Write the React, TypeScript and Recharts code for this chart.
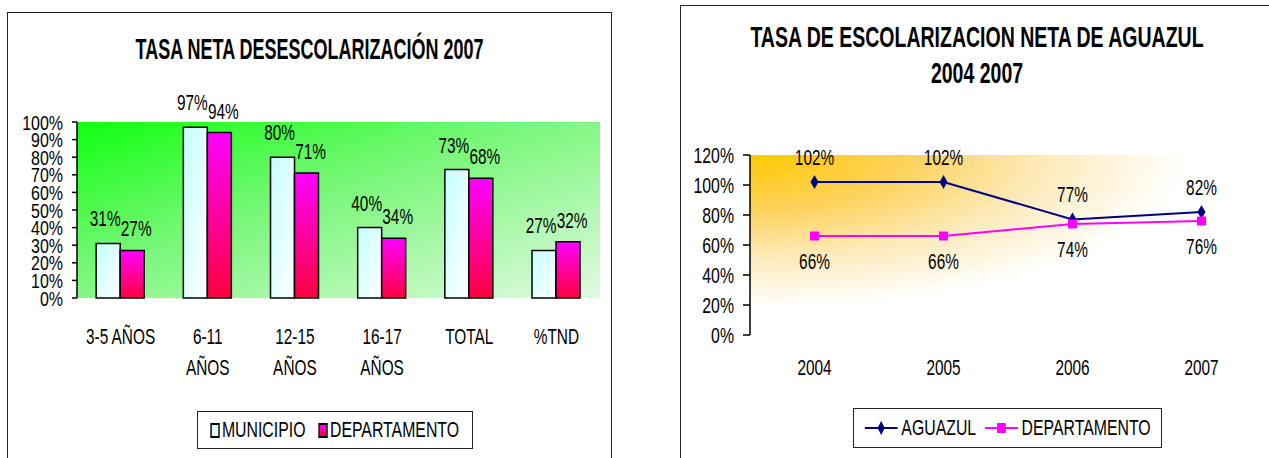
import React from 'react';
import {
  BarChart,
  Bar,
  LineChart,
  Line,
  XAxis,
  YAxis,
  CartesianGrid,
  LabelList,
} from 'recharts';

// ---- left chart data ----
const barCategories = ['3-5 AÑOS', '6-11\nAÑOS', '12-15\nAÑOS', '16-17\nAÑOS', 'TOTAL', '%TND'];
const municipioValues = [31, 97, 80, 40, 73, 27];
const departamentoBarValues = [27, 94, 71, 34, 68, 32];
const barTicks = [0, 10, 20, 30, 40, 50, 60, 70, 80, 90, 100];

// ---- right chart data ----
const years = ['2004', '2005', '2006', '2007'];
const aguazulValues = [102, 102, 77, 82];
const departamentoLineValues = [66, 66, 74, 76];
const lineTicks = [0, 20, 40, 60, 80, 100, 120];

const barData = barCategories.map((name, i) => ({
  name,
  municipio: municipioValues[i],
  departamento: departamentoBarValues[i],
}));

const lineData = years.map((year, i) => ({
  year,
  aguazul: aguazulValues[i],
  departamento: departamentoLineValues[i],
}));

const SANS = "'Liberation Sans', Arial, sans-serif";
const SX = 0.7; // the original picture is squeezed sideways

const pct = (v: any) => `${v}%`;
const edgeTicks = (n: number) => Array.from({ length: n + 1 }, (_, i) => i);

function YTick({ x, y, payload, fontSize, sx }: any) {
  return (
    <text
      transform={`translate(${x},${y}) scale(${sx},1)`}
      textAnchor="end"
      dy="0.36em"
      fontFamily={SANS}
      fontSize={fontSize}
      fill="#000"
    >
      {`${payload.value}%`}
    </text>
  );
}

function CatTick({ x, y, payload, fontSize, firstDy, nextDy }: any) {
  const lines = String(payload.value).split('\n');
  return (
    <text
      transform={`translate(${x},${y}) scale(${SX},1)`}
      textAnchor="middle"
      fontFamily={SANS}
      fontSize={fontSize}
      fill="#000"
    >
      {lines.map((l, i) => (
        <tspan key={i} x={0} dy={i === 0 ? firstDy : nextDy}>
          {l}
        </tspan>
      ))}
    </text>
  );
}

function Diamond({ cx, cy }: any) {
  if (cx == null || cy == null) return null;
  return <polygon points={`${cx},${cy - 7} ${cx + 4},${cy} ${cx},${cy + 7} ${cx - 4},${cy}`} fill="#000080" />;
}

function Square({ cx, cy }: any) {
  if (cx == null || cy == null) return null;
  return <rect x={cx - 4.5} y={cy - 4.5} width={9} height={9} fill="#ff00ff" />;
}

const labelStyle = (shift: number): any => ({
  fontFamily: SANS,
  fontSize: 22,
  fill: '#000',
  transform: `translateX(${shift}px) scaleX(${SX})`,
  transformBox: 'fill-box',
  transformOrigin: 'center',
});

const squeeze = (sx: number): React.CSSProperties => ({
  transform: `scaleX(${sx})`,
  whiteSpace: 'nowrap',
});

export default function App() {
  return (
    <div
      style={{
        position: 'absolute',
        left: 0,
        top: 0,
        width: 1269,
        height: 458,
        overflow: 'hidden',
        background: '#fff',
        fontFamily: SANS,
      }}
    >
      {/* left frame */}
      <div
        style={{
          position: 'absolute',
          left: 7,
          top: 12,
          width: 603,
          height: 470,
          border: '1.5px solid #222',
        }}
      />
      <div
        style={{
          position: 'absolute',
          left: 7,
          top: 31,
          width: 605,
          textAlign: 'center',
          fontWeight: 'bold',
          fontSize: 30,
          lineHeight: '36px',
          color: '#000',
          ...squeeze(0.6),
        }}
      >
        TASA NETA DESESCOLARIZACIÓN 2007
      </div>

      <div style={{ position: 'absolute', left: 0, top: 0 }}>
        <BarChart
          width={620}
          height={458}
          data={barData}
          margin={{ top: 122, right: 20, left: 7, bottom: 60 }}
          barCategoryGap="22%"
          barGap={0}
        >
          <defs>
            <linearGradient id="bgGreen" x1="0" y1="0" x2="1" y2="1">
              <stop offset="0%" stopColor="#10ff10" />
              <stop offset="40%" stopColor="#72f772" />
              <stop offset="100%" stopColor="#e2f9e2" />
            </linearGradient>
            <linearGradient id="munFill" x1="0" y1="0" x2="1" y2="1">
              <stop offset="0%" stopColor="#c4ffff" />
              <stop offset="100%" stopColor="#ffffff" />
            </linearGradient>
            <linearGradient id="depFill" x1="0" y1="0" x2="0" y2="1">
              <stop offset="0%" stopColor="#ff00ff" />
              <stop offset="100%" stopColor="#ff0040" />
            </linearGradient>
          </defs>
          <CartesianGrid fill="url(#bgGreen)" horizontal={false} vertical={false} />
          <XAxis
            xAxisId="edges"
            type="number"
            domain={[0, barCategories.length]}
            ticks={edgeTicks(barCategories.length)}
            allowDataOverflow
            tick={false}
            tickSize={8}
            height={0}
            axisLine={{ stroke: '#000', strokeWidth: 1.5 }}
            tickLine={{ stroke: '#000', strokeWidth: 1.5 }}
          />
          <XAxis
            dataKey="name"
            axisLine={false}
            tickLine={false}
            tickSize={0}
            tickMargin={0}
            height={100}
            interval={0}
            tick={<CatTick fontSize={22} firstDy={46} nextDy={31} />}
          />
          <YAxis
            width={70}
            domain={[0, 100]}
            ticks={barTicks}
            interval={0}
            tickSize={5}
            tickMargin={9}
            axisLine={{ stroke: '#000', strokeWidth: 1.5 }}
            tickLine={{ stroke: '#000', strokeWidth: 1.5 }}
            tick={<YTick fontSize={21} sx={0.76} />}
          />
          <Bar dataKey="municipio" fill="url(#munFill)" stroke="#000" strokeWidth={1.5} isAnimationActive={false}>
            <LabelList dataKey="municipio" position="top" offset={17} formatter={pct} style={labelStyle(-3)} />
          </Bar>
          <Bar dataKey="departamento" fill="url(#depFill)" stroke="#000" strokeWidth={1.5} isAnimationActive={false}>
            <LabelList dataKey="departamento" position="top" offset={14} formatter={pct} style={labelStyle(4)} />
          </Bar>
        </BarChart>
      </div>

      {/* left legend */}
      <div
        style={{
          position: 'absolute',
          left: 197,
          top: 411,
          width: 276,
          height: 38,
          border: '1.5px solid #222',
          boxSizing: 'border-box',
          background: '#fff',
          display: 'flex',
          alignItems: 'center',
          justifyContent: 'center',
          overflow: 'hidden',
        }}
      >
        <div
          style={{
            display: 'flex',
            alignItems: 'center',
            fontSize: 22,
            color: '#000',
            flexShrink: 0,
            ...squeeze(0.72),
          }}
        >
          <span
            style={{
              display: 'inline-block',
              flexShrink: 0,
              width: 9,
              height: 11,
              border: '2px solid #000',
              background: 'linear-gradient(135deg, #c4ffff, #fff)',
              marginRight: 3,
            }}
          />
          <span style={{ marginRight: 18 }}>MUNICIPIO</span>
          <span
            style={{
              display: 'inline-block',
              flexShrink: 0,
              width: 9,
              height: 11,
              border: '2px solid #000',
              background: 'linear-gradient(#ff00ff, #ff0040)',
              marginRight: 3,
            }}
          />
          <span>DEPARTAMENTO</span>
        </div>
      </div>

      {/* right frame */}
      <div
        style={{
          position: 'absolute',
          left: 680,
          top: 5,
          width: 620,
          height: 470,
          border: '1.5px solid #222',
        }}
      />
      <div
        style={{
          position: 'absolute',
          left: 577,
          top: 19,
          width: 800,
          textAlign: 'center',
          fontWeight: 'bold',
          fontSize: 30,
          lineHeight: '36px',
          color: '#000',
          ...squeeze(0.65),
        }}
      >
        TASA DE ESCOLARIZACION NETA DE AGUAZUL
        <br />
        2004 2007
      </div>

      <div style={{ position: 'absolute', left: 660, top: 0 }}>
        <LineChart
          width={609}
          height={458}
          data={lineData}
          margin={{ top: 155, right: 3, left: 20, bottom: 23 }}
        >
          <defs>
            <radialGradient id="bgGold" cx="0" cy="0" r="1" fx="0" fy="0">
              <stop offset="0%" stopColor="#ffc800" />
              <stop offset="30%" stopColor="#fdd25a" />
              <stop offset="58%" stopColor="#fdebbd" />
              <stop offset="85%" stopColor="#ffffff" />
            </radialGradient>
          </defs>
          <CartesianGrid fill="url(#bgGold)" horizontal={false} vertical={false} />
          <XAxis
            xAxisId="edges"
            type="number"
            domain={[0, years.length]}
            ticks={edgeTicks(years.length)}
            allowDataOverflow
            tick={false}
            tickSize={8}
            height={0}
            axisLine={{ stroke: '#000', strokeWidth: 1.5 }}
            tickLine={{ stroke: '#000', strokeWidth: 1.5 }}
          />
          <XAxis
            dataKey="year"
            scale="band"
            axisLine={false}
            tickLine={false}
            tickSize={0}
            tickMargin={0}
            height={100}
            interval={0}
            tick={<CatTick fontSize={22} firstDy={40} nextDy={31} />}
          />
          <YAxis
            width={70}
            domain={[0, 120]}
            ticks={lineTicks}
            interval={0}
            tickSize={7}
            tickMargin={9}
            axisLine={{ stroke: '#000', strokeWidth: 1.5 }}
            tickLine={{ stroke: '#000', strokeWidth: 1.5 }}
            tick={<YTick fontSize={22} sx={0.72} />}
          />
          <Line
            dataKey="aguazul"
            stroke="#000080"
            strokeWidth={2}
            dot={<Diamond />}
            activeDot={false}
            isAnimationActive={false}
          >
            <LabelList dataKey="aguazul" position="top" offset={17} formatter={pct} style={labelStyle(0)} />
          </Line>
          <Line
            dataKey="departamento"
            stroke="#ff00ff"
            strokeWidth={2}
            dot={<Square />}
            activeDot={false}
            isAnimationActive={false}
          >
            <LabelList dataKey="departamento" position="bottom" offset={17} formatter={pct} style={labelStyle(0)} />
          </Line>
        </LineChart>
      </div>

      {/* right legend */}
      <div
        style={{
          position: 'absolute',
          left: 853,
          top: 408,
          width: 309,
          height: 40,
          border: '1.5px solid #222',
          boxSizing: 'border-box',
          background: '#fff',
          display: 'flex',
          alignItems: 'center',
          justifyContent: 'center',
          overflow: 'hidden',
        }}
      >
        <div
          style={{
            display: 'flex',
            alignItems: 'center',
            fontSize: 22,
            color: '#000',
            flexShrink: 0,
            ...squeeze(0.72),
          }}
        >
          <svg width={46} height={16} style={{ marginRight: 5, flexShrink: 0 }}>
            <line x1={0} y1={8} x2={46} y2={8} stroke="#000080" strokeWidth={2} />
            <polygon points="23,1 28,8 23,15 18,8" fill="#000080" />
          </svg>
          <span style={{ marginRight: 12 }}>AGUAZUL</span>
          <svg width={46} height={16} style={{ marginRight: 5, flexShrink: 0 }}>
            <line x1={0} y1={8} x2={46} y2={8} stroke="#ff00ff" strokeWidth={2} />
            <rect x={17} y={3} width={12} height={10} fill="#ff00ff" />
          </svg>
          <span>DEPARTAMENTO</span>
        </div>
      </div>
    </div>
  );
}
